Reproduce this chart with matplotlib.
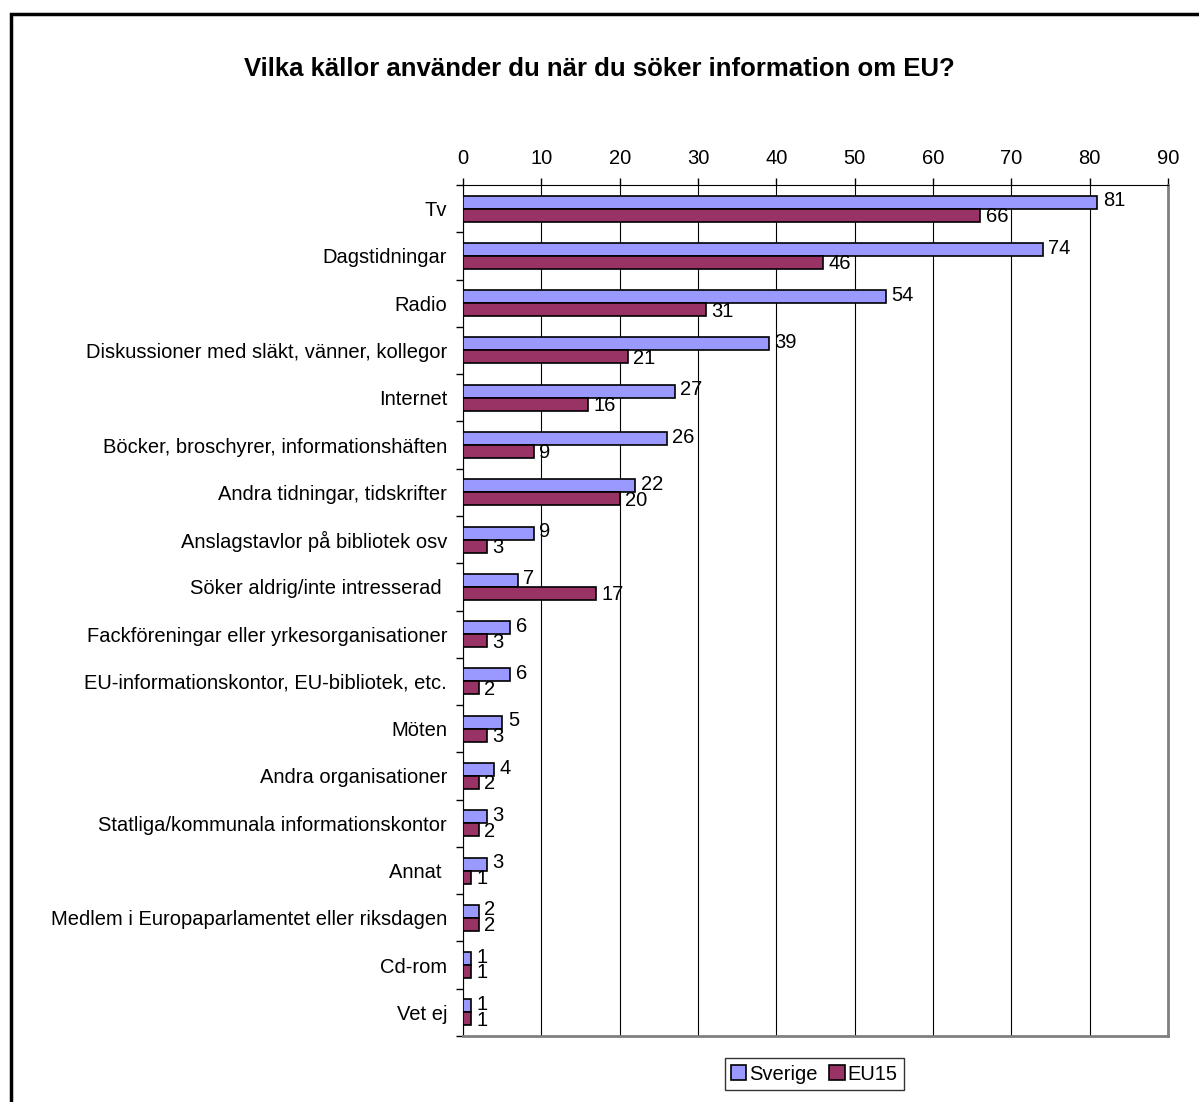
import numpy as np
import matplotlib.pyplot as plt
from matplotlib.patches import Rectangle

plt.rcParams['font.family'] = ['Liberation Sans', 'DejaVu Sans']

categories = ['Tv', 'Dagstidningar', 'Radio', 'Diskussioner med släkt, vänner, kollegor',
              'Internet', 'Böcker, broschyrer, informationshäften', 'Andra tidningar, tidskrifter',
              'Anslagstavlor på bibliotek osv', 'Söker aldrig/inte intresserad ',
              'Fackföreningar eller yrkesorganisationer', 'EU-informationskontor, EU-bibliotek, etc.',
              'Möten', 'Andra organisationer', 'Statliga/kommunala informationskontor', 'Annat ',
              'Medlem i Europaparlamentet eller riksdagen', 'Cd-rom', 'Vet ej']
sverige = [81, 74, 54, 39, 27, 26, 22, 9, 7, 6, 6, 5, 4, 3, 3, 2, 1, 1]
eu15 = [66, 46, 31, 21, 16, 9, 20, 3, 17, 3, 2, 3, 2, 2, 1, 2, 1, 1]
series_names = ['Sverige', 'EU15']
colors = ['#9999FF', '#993366']

fs = 14.5

fig = plt.figure(figsize=(11.99, 11.02), dpi=100)
ax = fig.add_axes([0.3862, 0.0599, 0.9741 - 0.3862, 0.8321 - 0.0599])

y = np.arange(len(categories))
h = 0.275
b1 = ax.barh(y - h / 2, sverige, height=h, color=colors[0], edgecolor='black', linewidth=1.2, label=series_names[0], zorder=3)
b2 = ax.barh(y + h / 2, eu15, height=h, color=colors[1], edgecolor='black', linewidth=1.2, label=series_names[1], zorder=3)

# value labels, Sverige slightly up, EU15 slightly down like the original
for bars, vals, dy in [(b1, sverige, 1), (b2, eu15, -1)]:
    for rect, v in zip(bars, vals):
        ax.annotate(str(v), (v, rect.get_y() + rect.get_height() / 2), xytext=(4, dy),
                    textcoords='offset points', va='center', ha='left', fontsize=fs, zorder=4)

ax.set_xlim(0, 90)
ax.set_ylim(len(categories) - 0.5, -0.5)
ax.set_xticks(range(0, 91, 10))
ax.xaxis.tick_top()
ax.tick_params(axis='x', labelsize=fs, length=5, width=1, direction='out', pad=7)
ax.set_yticks(y)
ax.set_yticklabels(categories, fontsize=fs)
ax.set_yticks(np.arange(-0.5, len(categories), 1), minor=True)
ax.tick_params(axis='y', which='major', length=0, pad=11.5)
ax.tick_params(axis='y', which='minor', length=5, width=1, direction='out')
ax.grid(axis='x', color='black', linewidth=0.8, zorder=0)

ax.spines['top'].set_color('black')
ax.spines['left'].set_color('black')
ax.spines['right'].set_color('#808080')
ax.spines['bottom'].set_color('#808080')
ax.spines['right'].set_linewidth(2)
ax.spines['bottom'].set_linewidth(2)

fig.text(0.5, 0.937, 'Vilka källor använder du när du söker information om EU?',
         ha='center', va='center', fontsize=18.5, fontweight='bold')

leg = fig.legend(handles=[b1, b2], labels=series_names, loc='center', bbox_to_anchor=(0.679, 0.0254),
                 ncol=2, fontsize=fs, frameon=True, fancybox=False, handlelength=0.75, handleheight=0.75,
                 handletextpad=0.15, columnspacing=0.6, borderpad=0.3, borderaxespad=0.2)
leg.get_frame().set_edgecolor('black')
leg.get_frame().set_linewidth(1)

fig.patches.append(Rectangle((11 / 1199, -0.01), 1.02, 1 - 14 / 1102 + 0.01, transform=fig.transFigure,
                             fill=False, edgecolor='black', linewidth=2.5))

fig.savefig('out.png', dpi=100)
